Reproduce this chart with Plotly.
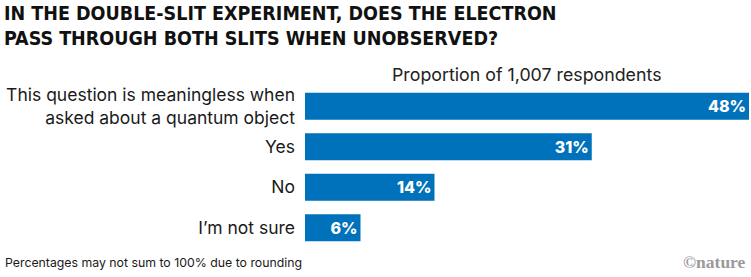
import plotly.graph_objects as go

categories = ["This question is meaningless when<br>asked about a quantum object", "Yes", "No", "I’m not sure"]
values = [48, 31, 14, 6]
value_labels = ["48%", "31%", "14%", "6%"]

title_text = "IN THE DOUBLE-SLIT EXPERIMENT, DOES THE ELECTRON<br>PASS THROUGH BOTH SLITS WHEN UNOBSERVED?"
subtitle_text = "Proportion of 1,007 respondents"
footnote_text = "Percentages may not sum to 100% due to rounding"

BLUE = "#0071bb"
W, H = 751, 277
ML, MR, MT, MB = 305, 2, 86, 29
PW, PH = W - ML - MR, H - MT - MB


def px(x):
    return (x - ML) / PW


def py(y):
    return (H - MB - y) / PH


fig = go.Figure(go.Bar(
    x=values, y=categories, orientation="h",
    marker=dict(color=BLUE, line=dict(width=0)),
    text=value_labels, textposition="inside", insidetextanchor="end",
    textfont=dict(family="Inter, Roboto, sans-serif", size=16, color="white", weight=800),
    cliponaxis=False, hoverinfo="skip",
))

fig.update_layout(
    width=W, height=H,
    margin=dict(l=ML, r=MR, t=MT, b=MB),
    paper_bgcolor="white", plot_bgcolor="white",
    bargap=0.33,
    showlegend=False,
    xaxis=dict(range=[0, 48], visible=False, fixedrange=True),
    yaxis=dict(autorange="reversed", showgrid=False, zeroline=False, showline=False,
               ticks="", ticklabelstandoff=9,
               tickfont=dict(family="Inter, Roboto, sans-serif", size=17.5, color="#1a1a1a")),
    uniformtext=dict(minsize=10, mode="show"),
)

fig.add_annotation(xref="paper", yref="paper", x=px(2), y=py(0), xanchor="left", yanchor="top",
                   text=f"<b>{title_text}</b>", showarrow=False, align="left",
                   font=dict(family="DejaVu Sans Condensed, DejaVu Sans, sans-serif", size=19.5,
                             color="#111111"))
fig.add_annotation(xref="paper", yref="paper", x=px(527), y=py(75), xanchor="center", yanchor="middle",
                   text=subtitle_text, showarrow=False,
                   font=dict(family="Inter, Roboto, sans-serif", size=17.8, color="#222222"))
fig.add_annotation(xref="paper", yref="paper", x=px(3), y=py(262), xanchor="left", yanchor="middle",
                   text=footnote_text, showarrow=False,
                   font=dict(family="Inter, Roboto, sans-serif", size=12.3, color="#1a1a1a"))
fig.add_annotation(xref="paper", yref="paper", x=px(748), y=py(262), xanchor="right", yanchor="middle",
                   text="<b>©nature</b>", showarrow=False,
                   font=dict(family="Liberation Serif, serif", size=17.5, color="#9a9a9a"))

fig.write_html("out.html", config={"displayModeBar": False},
               post_script="document.body.style.margin='0px';")
